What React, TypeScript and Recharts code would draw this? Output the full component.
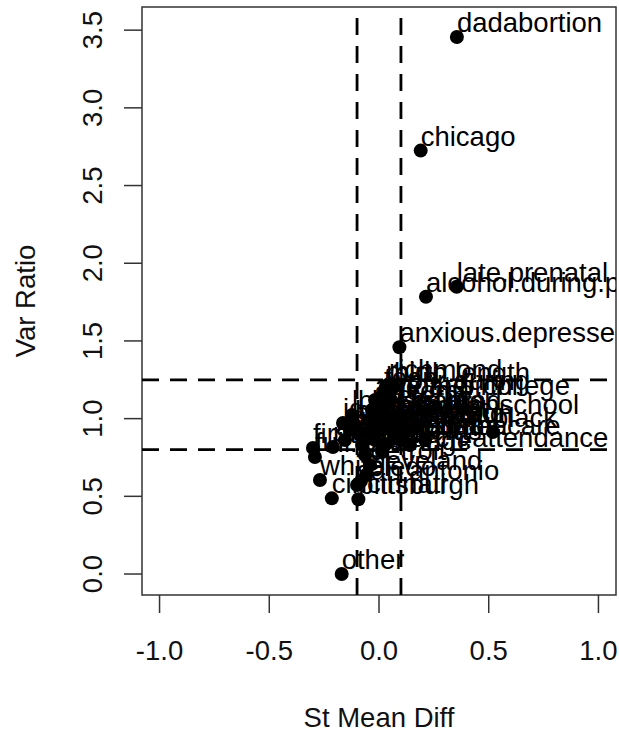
import { ScatterChart, Scatter, XAxis, YAxis, ReferenceLine, ReferenceArea, Label } from "recharts";

const FONT = "'Liberation Sans', Arial, Helvetica, sans-serif";
const FS = 27.5;

// covariate names, standardized mean difference, variance ratio
const labels = [
  "dadabortion", "chicago", "late.prenatal", "alcohol.during.pregnancy", "anxious.depressed",
  "richmond", "mid", "birth.length", "mother.college", "less.highschool", "black",
  "church.attendance", "ideal.weight", "first.born", "full.term", "white", "toledo",
  "san.antonio", "cincinnati", "pittsburgh", "other",
  "married", "smoked", "drugs", "bw", "twin", "sex", "momage", "b.head", "preterm",
  "birth.order", "nnhealth", "hispanic", "income", "work.during", "denver", "boston",
  "seattle", "miami", "dallas", "houston", "atlanta", "detroit", "cleveland", "teen",
  "prenatal.care", "hs.grad", "medicaid", "welfare", "urban", "poverty", "age.at.birth", "lbw",
];
const stMeanDiff = [
  0.355, 0.19, 0.354, 0.214, 0.093,
  0.046, 0.032, 0.068, 0.055, 0.055, 0.519,
  0.014, -0.164, -0.301, -0.292, -0.269, -0.082,
  -0.1, -0.215, -0.094, -0.17,
  -0.21, -0.155, -0.132, -0.109, -0.087, -0.077, -0.064, -0.05, -0.032,
  -0.018, -0.005, 0.014, 0.027, 0.041, 0.05, 0.073,
  0.096, 0.118, 0.141, 0.164, 0.21, -0.041, -0.059, 0.023,
  0.096, 0.141, 0.073, 0.005, -0.041, 0.027, -0.018, -0.123,
];
const varRatio = [
  3.456, 2.725, 1.849, 1.784, 1.459,
  1.223, 1.21, 1.203, 1.12, 0.997, 0.914,
  0.785, 0.972, 0.811, 0.753, 0.605, 0.598,
  0.573, 0.487, 0.481, 0.0,
  0.817, 0.862, 0.927, 0.959, 0.894, 0.83, 0.766, 0.991, 1.055,
  0.862, 0.927, 1.023, 1.088, 1.152, 0.959, 0.875,
  0.991, 0.914, 0.83, 0.94, 0.862, 0.701, 0.637, 1.171,
  0.862, 1.023, 0.94, 0.991, 0.914, 0.83, 1.12, 1.023,
];

const xTicks = [-1, -0.5, 0, 0.5, 1];
const yTicks = [0, 0.5, 1, 1.5, 2, 2.5, 3, 3.5];
const vCutoffs = [-0.1, 0.1];
const hCutoffs = [0.8, 1.25];
const xDomain = [-1.08, 1.08];
const yDomain = [-0.135, 3.649];

const points = labels.map((name, i) => ({ name, x: stMeanDiff[i], y: varRatio[i] }));

const fmt = (v: number) => v.toFixed(1);

const YTick = (props: any) => {
  const { x, y, payload } = props;
  return (
    <text x={x} y={y} transform={`rotate(-90, ${x}, ${y})`} textAnchor="middle"
          fontSize={FS} fontFamily={FONT} fill="#111">
      {fmt(payload.value)}
    </text>
  );
};

const Dot = (props: any) => <circle cx={props.cx} cy={props.cy} r={7} fill="#000" />;

const NameTag = (props: any) => (
  <text x={props.cx} y={props.cy - 5} fontSize={FS} fontFamily={FONT} fill="#000">
    {props.payload?.name ?? props.name}
  </text>
);

export default function App() {
  return (
    <div style={{ position: "absolute", left: 0, top: 0, width: 619, height: 734, background: "#fff" }}>
      <ScatterChart width={619} height={734} margin={{ top: 7, right: 3, bottom: 0, left: 0 }}>
        <XAxis type="number" dataKey="x" domain={xDomain} ticks={xTicks} interval={0}
               allowDataOverflow tickFormatter={fmt} axisLine={false} height={139}
               tickSize={18} tickMargin={27}
               tickLine={{ stroke: "#333", strokeWidth: 1.5 }}
               tick={{ fontSize: FS, fontFamily: FONT, fill: "#111" }}>
          <Label value="St Mean Diff" position="insideBottom" offset={7}
                 style={{ fontSize: FS, fontFamily: FONT, fill: "#111" }} />
        </XAxis>
        <YAxis type="number" dataKey="y" domain={yDomain} ticks={yTicks} interval={0}
               allowDataOverflow axisLine={false} width={142}
               tickSize={18} tickMargin={22}
               tickLine={{ stroke: "#333", strokeWidth: 1.5 }}
               tick={YTick}>
          <Label content={({ viewBox }: any) => {
            const cx = viewBox.x + 35;
            const cy = viewBox.y + viewBox.height / 2;
            return (
              <text x={cx} y={cy} transform={`rotate(-90, ${cx}, ${cy})`} textAnchor="middle"
                    fontSize={FS} fontFamily={FONT} fill="#111">Var Ratio</text>
            );
          }} />
        </YAxis>
        <ReferenceArea x1={xDomain[0]} x2={xDomain[1]} y1={yDomain[0]} y2={yDomain[1]}
                       fill="none" stroke="#333" strokeWidth={1.5} ifOverflow="visible" />
        {vCutoffs.map((v) => (
          <ReferenceLine key={"v" + v} x={v} stroke="#000" strokeWidth={2.8} strokeDasharray="17 11" />
        ))}
        {hCutoffs.map((h) => (
          <ReferenceLine key={"h" + h} y={h} stroke="#000" strokeWidth={2.8} strokeDasharray="17 11" />
        ))}
        <Scatter data={points} shape={Dot} isAnimationActive={false} />
        <Scatter data={points} shape={NameTag} isAnimationActive={false} />
      </ScatterChart>
    </div>
  );
}
